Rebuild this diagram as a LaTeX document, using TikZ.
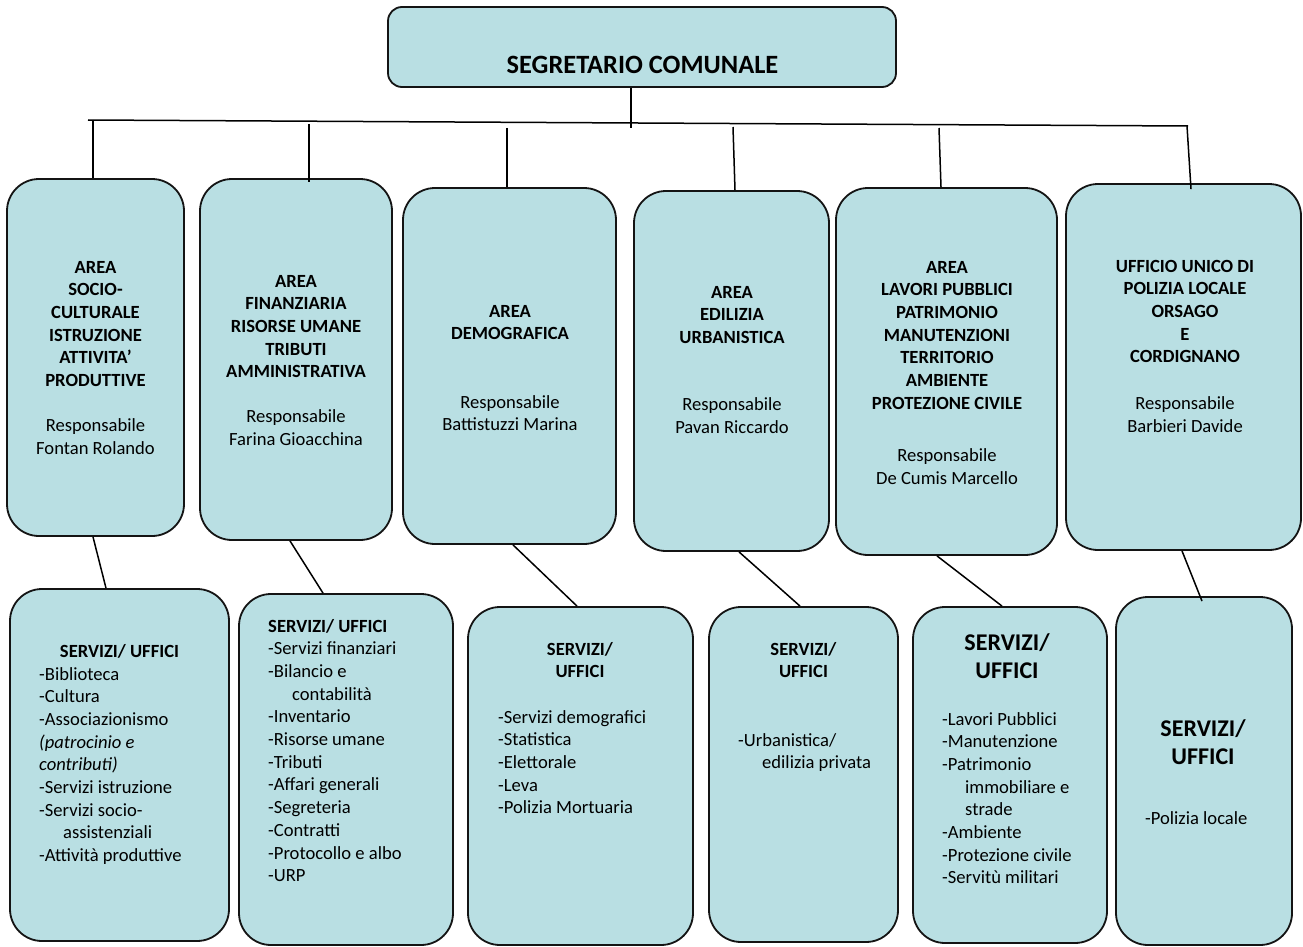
\documentclass[tikz,border=0pt]{standalone}
\usepackage{fontspec}
\setmainfont{Carlito}
\usetikzlibrary{calc}
\definecolor{boxfill}{RGB}{185,223,227}
\definecolor{edge}{RGB}{20,20,20}
\begin{document}
\begin{tikzpicture}[x=1pt,y=-1pt,
  box/.style={draw=edge, line width=1.8pt, fill=boxfill, rounded corners=32pt, inner sep=0pt},
  topbox/.style={draw=edge, line width=1.8pt, fill=boxfill, rounded corners=14pt, inner sep=0pt},
  conn/.style={draw=black, line width=1.5pt},
  txt/.style={inner sep=0pt, align=center, anchor=base, font=\fontsize{18.6}{22.7}\selectfont},
  lst/.style={inner sep=0pt, align=left, anchor=base west, font=\fontsize{18.6}{22.7}\selectfont},
  big/.style={inner sep=0pt, align=center, anchor=base, font=\fontsize{24}{28.3}\selectfont\bfseries}]
\path[use as bounding box, fill=white] (0,0) rectangle (1303,947);

% top box
\node[topbox, minimum width=508pt, minimum height=80pt] (top) at (642,47) {};
\node[txt, font=\fontsize{26.4}{30}\selectfont\bfseries] (toptxt) at (642.5,74) {SEGRETARIO COMUNALE};

% area boxes
\node[box, minimum width=177pt, minimum height=357pt] (a1) at (95.5,357.5) {};
\node[box, minimum width=192pt, minimum height=361pt] (a2) at (296,359.5) {};
\node[box, minimum width=213pt, minimum height=356pt] (a3) at (509.5,366) {};
\node[box, minimum width=195pt, minimum height=360pt] (a4) at (731.5,371) {};
\node[box, minimum width=221pt, minimum height=367pt] (a5) at (946.5,371.5) {};
\node[box, minimum width=235pt, minimum height=366pt] (a6) at (1183.5,367) {};

% service boxes
\node[box, minimum width=219pt, minimum height=352pt] (s1) at (119.5,765) {};
\node[box, minimum width=214pt, minimum height=351pt] (s2) at (346,769.5) {};
\node[box, minimum width=225pt, minimum height=338pt] (s3) at (580.5,776) {};
\node[box, minimum width=189pt, minimum height=335pt] (s4) at (803.5,774.5) {};
\node[box, minimum width=194pt, minimum height=336pt] (s5) at (1010,775) {};
\node[box, minimum width=176pt, minimum height=348pt] (s6) at (1204,771) {};

% bus
\coordinate (busL) at (88,120);
\coordinate (busR) at (1188,126);
\coordinate (busC) at (631,128);
\draw[conn] (busL) -- (busR);
\draw[conn] ([xshift=-11pt]top.south) -- (busC);

\coordinate (b1) at (93,120);
\coordinate (b2) at (309,124);
\coordinate (b3) at (507,128);
\coordinate (b4) at (733,127);
\coordinate (b5) at (939,128);
\coordinate (b6) at (1187,126);
\draw[conn] (b1) -- ([xshift=-2.5pt]a1.north);
\draw[conn] (b2) -- ([xshift=13pt,yshift=-4pt]a2.north);
\draw[conn] (b3) -- ([xshift=-2.5pt]a3.north);
\draw[conn] (b4) -- ([xshift=3.5pt]a4.north);
\draw[conn] (b5) -- ([xshift=-5.5pt]a5.north);
\draw[conn] (b6) -- ([xshift=7.5pt,yshift=-6pt]a6.north);

% area -> services
\draw[conn] ([xshift=-2.5pt]a1.south) -- ([xshift=-13.5pt]s1.north);
\draw[conn] ([xshift=-6pt]a2.south) -- ([xshift=-23pt]s2.north);
\draw[conn] ([xshift=3.5pt]a3.south) -- ([xshift=-3.5pt]s3.north);
\draw[conn] ([xshift=7.5pt]a4.south) -- ([xshift=-3.5pt]s4.north);
\draw[conn] ([xshift=-9.5pt]a5.south) -- ([xshift=-8pt]s5.north);
\draw[conn] ([xshift=-1.5pt]a6.south) -- ([xshift=-2pt,yshift=-5pt]s6.north);

% area texts (anchor base = baseline of last line)
\node[txt] (t1) at (95.5,454.6) {\textbf{AREA}\\\textbf{SOCIO-}\\\textbf{CULTURALE}\\\textbf{ISTRUZIONE}\\\textbf{ATTIVITA’}\\\textbf{PRODUTTIVE}\\[22.7pt]Responsabile\\Fontan Rolando};
\node[txt] (t2) at (296,445.2) {\textbf{AREA}\\\textbf{FINANZIARIA}\\\textbf{RISORSE UMANE}\\\textbf{TRIBUTI}\\\textbf{AMMINISTRATIVA}\\[22pt]Responsabile\\Farina Gioacchina};
\node[txt] (t3) at (510,430.7) {\textbf{AREA}\\\textbf{DEMOGRAFICA}\\[45.6pt]Responsabile\\Battistuzzi Marina};
\node[txt] (t4) at (732,433.4) {\textbf{AREA}\\\textbf{EDILIZIA}\\\textbf{URBANISTICA}\\[44.6pt]Responsabile\\Pavan Riccardo};
\node[txt] (t5) at (947,484.6) {\textbf{AREA}\\\textbf{LAVORI PUBBLICI}\\\textbf{PATRIMONIO}\\\textbf{MANUTENZIONI}\\\textbf{TERRITORIO}\\\textbf{AMBIENTE}\\\textbf{PROTEZIONE CIVILE}\\[30pt]Responsabile\\De Cumis Marcello};
\node[txt] (t6) at (1185,432.2) {\textbf{UFFICIO UNICO DI}\\\textbf{POLIZIA LOCALE}\\\textbf{ORSAGO}\\\textbf{E}\\\textbf{CORDIGNANO}\\[24pt]Responsabile\\Barbieri Davide};

% service texts
\node[txt] (h1) at (119.5,657) {\textbf{SERVIZI/ UFFICI}};
\node[lst] (l1) at (39,861.6) {-Biblioteca\\-Cultura\\-Associazionismo\\\textit{(patrocinio e}\\\textit{contributi)}\\-Servizi istruzione\\-Servizi socio-\\\hspace*{24pt}assistenziali\\-Attività produttive};

\node[lst] (l2) at (268,881.7) {\textbf{SERVIZI/ UFFICI}\\-Servizi finanziari\\-Bilancio e\\\hspace*{24pt}contabilità\\-Inventario\\-Risorse umane\\-Tributi\\-Affari generali\\-Segreteria\\-Contratti\\-Protocollo e albo\\-URP};

\node[txt] (h3) at (580,677.7) {\textbf{SERVIZI/}\\\textbf{UFFICI}};
\node[lst] (l3) at (498,813.8) {-Servizi demografici\\-Statistica\\-Elettorale\\-Leva\\-Polizia Mortuaria};

\node[txt] (h4) at (803.5,677.7) {\textbf{SERVIZI/}\\\textbf{UFFICI}};
\node[lst] (l4) at (738,768.7) {-Urbanistica/\\\hspace*{24pt}edilizia privata};

\node[big] (h5) at (1007,678.3) {SERVIZI/\\UFFICI};
\node[lst] (l5) at (942,883.9) {-Lavori Pubblici\\-Manutenzione\\-Patrimonio\\\hspace*{23pt}immobiliare e\\\hspace*{23pt}strade\\-Ambiente\\-Protezione civile\\-Servitù militari};

\node[big] (h6) at (1203,764.8) {SERVIZI/\\UFFICI};
\node[lst] (l6) at (1145,824) {-Polizia locale};
\end{tikzpicture}
\end{document}
